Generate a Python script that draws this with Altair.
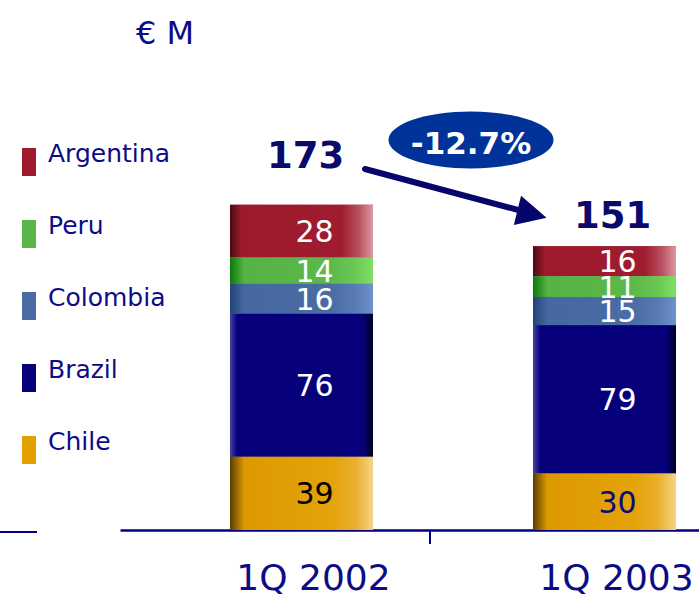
import altair as alt
import pandas as pd

# ---------------- data ----------------
quarters = ["1Q 2002", "1Q 2003"]
countries = ["Argentina", "Peru", "Colombia", "Brazil", "Chile"]  # top -> bottom of stack
values_2002 = [28, 14, 16, 76, 39]
values_2003 = [16, 11, 15, 79, 30]
unit_label = "€ M"

base_colors = ["#9E1A2F", "#5BB548", "#4A6CA3", "#06007A", "#E29F00"]
gradients = {
    "Argentina": ([0.0, 0.08, 0.78, 0.9, 1.0], ["#4a0a14", "#9c1a2c", "#a01c30", "#b8505f", "#dc98a2"]),
    "Peru": ([0.0, 0.1, 0.7, 0.88, 1.0], ["#0a7a0a", "#56b244", "#5cb84a", "#6cc854", "#80e064"]),
    "Colombia": ([0.0, 0.1, 0.7, 0.88, 1.0], ["#22427a", "#4667a0", "#4a6ca3", "#5a7cb6", "#6e92cc"]),
    "Brazil": ([0.0, 0.05, 0.5, 0.93, 1.0], ["#4444a6", "#07007b", "#06007a", "#05007a", "#000022"]),
    "Chile": ([0.0, 0.1, 0.72, 0.88, 1.0], ["#5a3e00", "#dc9a00", "#e4a308", "#eab030", "#f4d488"]),
}

navy = "#0c0c86"
dark_navy = "#0a0a6a"

rows = []
for q, vals in zip(quarters, [values_2002, values_2003]):
    for i, (c, v) in enumerate(zip(countries, vals)):
        rows.append({"quarter": q, "country": c, "value": v, "rank": len(countries) - 1 - i})
df = pd.DataFrame(rows)

totals = [sum(values_2002), sum(values_2003)]
change = (totals[1] - totals[0]) / totals[0] * 100
change_label = f"{change:.1f}%"

one = pd.DataFrame({"k": [0]})

# ---------------- scales / encodings ----------------
x_enc = alt.X(
    "quarter:N",
    sort=quarters,
    scale=alt.Scale(domain=quarters, range=[120, 786], paddingInner=0.528, paddingOuter=0.363),
    axis=alt.Axis(
        title=None, labelAngle=0, ticks=False, tickSize=0,
        domainColor="#000080", domainWidth=2.5,
        labelFont="DejaVu Sans", labelFontSize=36, labelColor=navy,
        labelBaseline="alphabetic", labelPadding=59, labelOffset=12,
    ),
)
y_scale = alt.Scale(domain=[0, 282], nice=False, zero=True)

base = alt.Chart(df).transform_stack(
    stack="value", groupby=["quarter"],
    sort=[alt.SortField("rank", order="ascending")],
    as_=["y0", "y1"],
)

bars = base.mark_bar().encode(
    x=x_enc,
    y=alt.Y("y0:Q", scale=y_scale, axis=None),
    y2="y1:Q",
    color=alt.Color(
        "country:N",
        scale=alt.Scale(domain=countries, range=base_colors),
        legend=alt.Legend(
            title=None, orient="none", legendX=15, legendY=148, direction="vertical",
            padding=0,
            symbolType="M -0.5 -1 L 0.5 -1 L 0.5 1 L -0.5 1 Z",
            symbolSize=784, symbolStrokeWidth=0, symbolOpacity=1,
            labelFont="DejaVu Sans", labelFontSize=25, labelColor=navy,
            labelBaseline="alphabetic", labelOffset=5, rowPadding=38,
        ),
    ),
)

grad_layers = []
for c in countries:
    offs, cols = gradients[c]
    g = alt.Gradient(
        gradient="linear", x1=0, x2=1, y1=0, y2=0,
        stops=[alt.GradientStop(offset=o, color=col) for o, col in zip(offs, cols)],
    )
    grad_layers.append(
        base.transform_filter(alt.datum.country == c).mark_bar(color=g).encode(
            x=x_enc, y=alt.Y("y0:Q", scale=y_scale, axis=None), y2="y1:Q"
        )
    )

seg_labels = base.transform_calculate(ymid="(datum.y0 + datum.y1) / 2").mark_text(
    font="DejaVu Sans", fontSize=30, baseline="middle", align="center", dx=13, dy=2
).encode(
    x=x_enc,
    y=alt.Y("ymid:Q", scale=y_scale, axis=None),
    text="value:Q",
    color=alt.value(
        "white",
        condition=[
            {"test": f"datum.country == 'Chile' && datum.quarter == '{quarters[0]}'", "value": "black"},
            {"test": f"datum.country == 'Chile' && datum.quarter == '{quarters[1]}'", "value": "#0b0b7a"},
        ],
    ),
)

tot_base = alt.Chart(df).transform_aggregate(total="sum(value)", groupby=["quarter"])
tot1 = tot_base.transform_filter(alt.datum.quarter == quarters[0]).mark_text(
    font="DejaVu Sans", fontWeight="bold", fontSize=37, color=dark_navy,
    baseline="alphabetic", align="center", dx=4, dy=-37,
).encode(x=x_enc, y=alt.Y("total:Q", scale=y_scale, axis=None), text="total:Q")
tot2 = tot_base.transform_filter(alt.datum.quarter == quarters[1]).mark_text(
    font="DejaVu Sans", fontWeight="bold", fontSize=37, color=dark_navy,
    baseline="alphabetic", align="center", dx=8, dy=-18,
).encode(x=x_enc, y=alt.Y("total:Q", scale=y_scale, axis=None), text="total:Q")

# ---------------- annotations ----------------
ellipse_path = ("M -1 0 C -1 -0.1905 -0.5523 -0.345 0 -0.345 C 0.5523 -0.345 1 -0.1905 1 0 "
                "C 1 0.1905 0.5523 0.345 0 0.345 C -0.5523 0.345 -1 0.1905 -1 0 Z")
ellipse = alt.Chart(one).mark_point(
    shape=ellipse_path, size=165 * 165, filled=True, fill="#003399", opacity=1, strokeWidth=0
).encode(x=alt.value(471), y=alt.value(140))

change_text = alt.Chart(pd.DataFrame({"t": [change_label]})).mark_text(
    font="DejaVu Sans", fontWeight="bold", fontSize=31, color="white",
    baseline="middle", align="center",
).encode(x=alt.value(471), y=alt.value(145), text="t:N")

arrow_line = alt.Chart(one).mark_rule(color="#05056b", strokeWidth=6, strokeCap="round").encode(
    x=alt.value(365), y=alt.value(169), x2=alt.value(522), y2=alt.value(211)
)
arrow_head = alt.Chart(one).mark_point(
    shape="M -1 -1 L 1 0 L -1 1 Z", size=900, angle=14, filled=True,
    fill="#05056b", opacity=1, strokeWidth=0,
).encode(x=alt.value(532), y=alt.value(214))

mid_tick = alt.Chart(one).mark_rule(color="#000080", strokeWidth=2).encode(
    x=alt.value(430), y=alt.value(531), y2=alt.value(544)
)
left_stub = alt.Chart(one).mark_rule(color="#000080", strokeWidth=2).encode(
    x=alt.value(0), x2=alt.value(37), y=alt.value(532)
)

unit_text = alt.Chart(pd.DataFrame({"t": [unit_label]})).mark_text(
    font="DejaVu Sans", fontSize=32, color=navy, baseline="alphabetic", align="left"
).encode(x=alt.value(136), y=alt.value(44), text="t:N")

chart = alt.layer(
    bars, *grad_layers, seg_labels, tot1, tot2,
    arrow_line, arrow_head, ellipse, change_text,
    mid_tick, left_stub, unit_text,
).properties(
    width=699, height=530,
    autosize=alt.AutoSizeParams(type="none"),
    padding={"left": 0, "top": 0, "right": 0, "bottom": 64},
).configure_view(stroke=None)

chart.save("out.html", embed_options={"renderer": "svg", "actions": False})
